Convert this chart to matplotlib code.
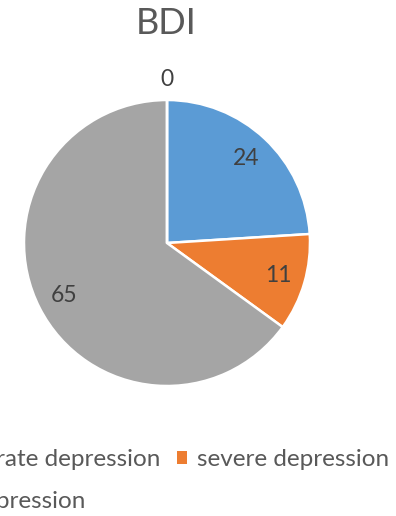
import matplotlib
matplotlib.use('Agg')
from matplotlib import pyplot as plt
from matplotlib.patches import Patch

# BDI categories as they appear in the legend (the fourth one is the empty 0 slice)
categories = ['moderate depression', 'severe depression', 'no depression', 'mild depression']
counts = [24, 11, 65, 0]
colors = ['#5B9BD5', '#ED7D31', '#A5A5A5', '#FFC000']

plt.rcParams['font.family'] = ['Lato', 'DejaVu Sans']

fig = plt.figure(figsize=(3.96, 5.16), dpi=100)
fig.patch.set_facecolor('white')

# pie centre ~ (167, 243) px, radius ~ 143 px
cx, cy, r = 167, 243, 143
W, H = 396, 516
ax = fig.add_axes([(cx - r) / W, 1 - (cy + r) / H, 2 * r / W, 2 * r / H])

def fmt(pct):
    v = int(round(pct * sum(counts) / 100.0))
    return '' if v == 0 else str(v)

zero_labels = ['0' if c == 0 else '' for c in counts]
wedges, texts, autotexts = ax.pie(counts, colors=colors, startangle=90, counterclock=False,
                                  labels=zero_labels, labeldistance=1.14,
                                  autopct=fmt, pctdistance=0.81,
                                  wedgeprops=dict(edgecolor='white', linewidth=1.8),
                                  textprops=dict(color='#404040', fontsize=16.5))
for t in texts:
    t.set_ha('center')
    t.set_va('center')
ax.set_xlim(-1, 1)
ax.set_ylim(-1, 1)
ax.axis('off')

fig.text(166 / W, 1 - 24 / H, 'BDI', ha='center', va='center', fontsize=26, color='#595959')

# legend: two columns, first row moderate/severe, second row the third entry
handles = [Patch(facecolor=colors[i], edgecolor='none') for i in range(3)]
order = [0, 2, 1]
leg = fig.legend([handles[i] for i in order], [categories[i] for i in order],
                 ncol=2, loc='upper right', bbox_to_anchor=(389 / W, 1 - 449 / H),
                 frameon=False, fontsize=17.5, handlelength=0.42, handleheight=0.42,
                 handletextpad=0.4, columnspacing=0.7, labelspacing=0.86,
                 borderpad=0, borderaxespad=0)
for t in leg.get_texts():
    t.set_color('#595959')

fig.savefig('out.png', dpi=100)
